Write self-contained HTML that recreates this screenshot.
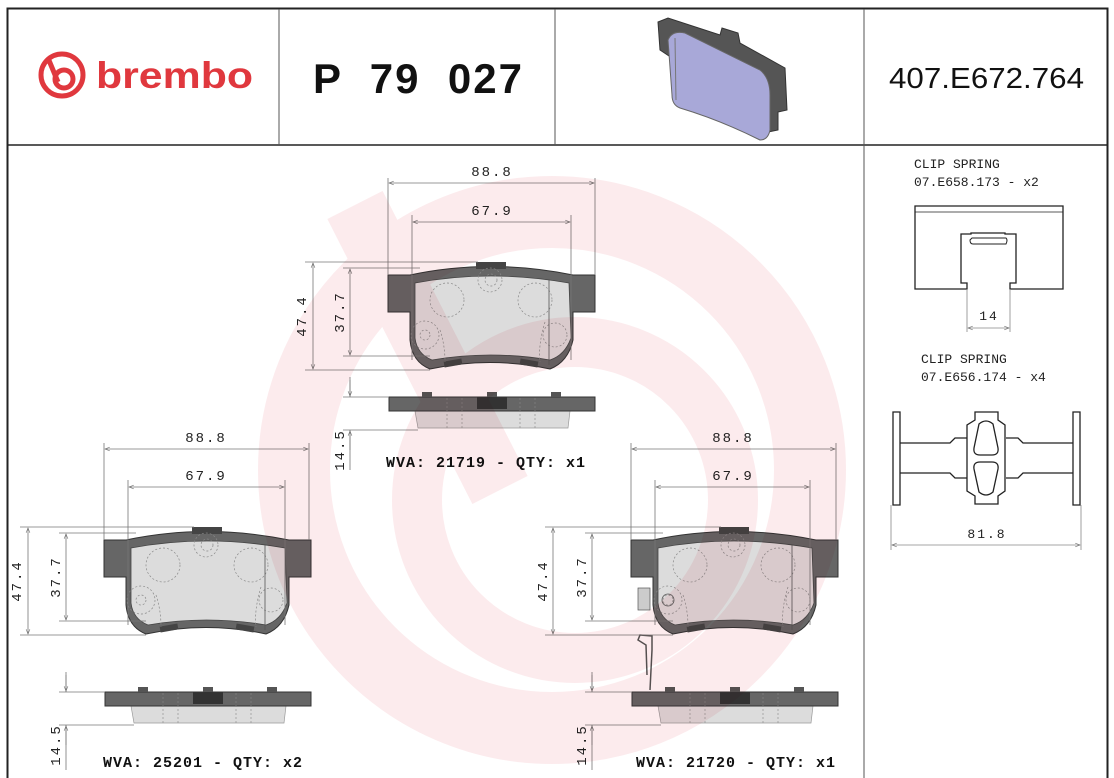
<!DOCTYPE html>
<html><head><meta charset="utf-8"><style>
html,body{margin:0;padding:0;background:#fff;}
svg{display:block;}
text{font-family:"Liberation Mono","DejaVu Sans Mono",monospace;}
</style></head><body>
<svg width="1114" height="778" viewBox="0 0 1114 778" xmlns="http://www.w3.org/2000/svg">
<defs>
<marker id="a" viewBox="0 0 10 10" refX="10" refY="5" markerWidth="8" markerHeight="6" orient="auto-start-reverse"><path d="M0,1 L10,5 L0,9" fill="none" stroke="#666" stroke-width="1.2"/></marker>
<g id="pad">
<path d="M388,275 L410,275 Q490,258 573,275 L595,275 L595,312 L573,312 L573,340 Q568,362 550,369 Q490,356 430,369 Q412,362 410,340 L410,312 L388,312 Z" fill="#666" stroke="#333" stroke-width="1"/>
<path d="M415,283 Q490,269 569,283 L571,338 Q565,355 550,360 Q490,350 432,360 Q417,354 415,338 Z" fill="#dcdcdc" stroke="#444" stroke-width="0.8"/>
<rect x="476" y="262" width="30" height="7" fill="#444"/>
<rect x="444" y="360" width="18" height="6" fill="#444" transform="rotate(-10 453 363)"/>
<rect x="520" y="360" width="18" height="6" fill="#444" transform="rotate(10 529 363)"/>
<g fill="none" stroke="#888" stroke-width="0.7" stroke-dasharray="2,2">
<circle cx="447" cy="300" r="17"/><circle cx="535" cy="300" r="17"/><circle cx="490" cy="280" r="12"/><circle cx="491" cy="280" r="6"/><circle cx="425" cy="335" r="14"/><circle cx="425" cy="335" r="5"/><circle cx="555" cy="335" r="12"/>
<path d="M440,330 Q445,345 445,362 M545,322 Q538,345 540,362"/>
</g>
<line x1="549" y1="280" x2="549" y2="365" stroke="#555" stroke-width="0.8"/>
</g>
<g id="side">
<path d="M415,411 L570,411 L568,428 L418,428 Z" fill="#dcdcdc" stroke="#999" stroke-width="0.7"/>
<rect x="389" y="397" width="206" height="14" fill="#666" stroke="#333"/>
<rect x="422" y="392" width="10" height="5" fill="#555"/><rect x="487" y="392" width="10" height="5" fill="#555"/><rect x="551" y="392" width="10" height="5" fill="#555"/>
<rect x="477" y="397" width="30" height="12" fill="#333"/>
<g stroke="#888" stroke-width="0.6" stroke-dasharray="2,2" fill="none"><path d="M447,398 V428 M462,398 V428 M520,398 V428 M535,398 V428"/></g>
</g>
</defs>

<!-- frame -->
<rect x="7.5" y="8.5" width="1100" height="780" fill="none" stroke="#222" stroke-width="2"/>
<line x1="7" y1="145" x2="1108" y2="145" stroke="#222" stroke-width="1.5"/>
<line x1="279" y1="9" x2="279" y2="145" stroke="#555"/>
<line x1="555" y1="9" x2="555" y2="145" stroke="#555"/>
<line x1="864" y1="9" x2="864" y2="778" stroke="#555"/>

<!-- logo -->
<g fill="none" stroke="#e0383e" stroke-width="5">
<circle cx="62" cy="75" r="21"/>
<circle cx="64" cy="79" r="9"/>
<path d="M48,58 L58,82"/>
</g>
<text x="96" y="88" font-size="37" font-weight="bold" fill="#e0383e" textLength="157" lengthAdjust="spacingAndGlyphs" style="font-family:'Liberation Sans',sans-serif">brembo</text>
<text x="313" y="93" font-size="42" font-weight="bold" fill="#111" textLength="209" lengthAdjust="spacing" style="font-family:'Liberation Sans',sans-serif;white-space:pre" xml:space="preserve">P  79  027</text>
<text x="889" y="88" font-size="29" fill="#111" textLength="195" lengthAdjust="spacingAndGlyphs" style="font-family:'Liberation Sans',sans-serif">407.E672.764</text>

<!-- 3d pad -->
<path d="M658,22 L668,18 L720,35 L722,28 L738,33 L740,43 L785,68 L787,110 L778,112 L778,130 L768,132 L765,120 L660,50 Z" fill="#555" stroke="#333"/>
<path d="M668,40 Q672,30 685,33 L760,70 Q770,78 770,95 L770,130 Q768,140 760,140 Q720,120 680,108 Q672,105 672,95 Z" fill="#a8a8d8" stroke="#666"/>
<path d="M675,38 L676,100" stroke="#777" fill="none"/>

<!-- pads -->
<use href="#pad"/>
<use href="#side"/>
<use href="#pad" transform="translate(-284,265)"/>
<use href="#side" transform="translate(-284,295)"/>
<use href="#pad" transform="translate(243,265)"/>
<use href="#side" transform="translate(243,295)"/>

<rect x="638" y="588" width="12" height="22" fill="#ccc" stroke="#555" stroke-width="0.7"/>
<circle cx="668" cy="600" r="6" fill="none" stroke="#555" stroke-width="0.8"/>
<path d="M647,675 L646,645 L638,640 L640,635 L652,636 L652,650 L650,690" fill="none" stroke="#555" stroke-width="1.5"/>

<!-- dims -->
<g stroke="#777" stroke-width="0.8" fill="none">
<path d="M388,178 V275 M595,178 V275 M412,215 V360 M571,215 V360"/>
<line x1="389" y1="183" x2="594" y2="183" marker-start="url(#a)" marker-end="url(#a)"/>
<line x1="413" y1="222" x2="570" y2="222" marker-start="url(#a)" marker-end="url(#a)"/>
<path d="M305,262 H478 M343,268 H420 M343,356 H430 M305,370 H430"/>
<line x1="313" y1="263" x2="313" y2="369" marker-start="url(#a)" marker-end="url(#a)"/>
<line x1="350" y1="269" x2="350" y2="355" marker-start="url(#a)" marker-end="url(#a)"/>
<path d="M343,397 H389 M343,430 H418 M350,377 V397 M350,430 V470"/>
<line x1="350" y1="380" x2="350" y2="396" marker-end="url(#a)"/>
<line x1="350" y1="450" x2="350" y2="431" marker-end="url(#a)"/>
<path d="M104,443 V540 M309,443 V540 M128,480 V625 M285,480 V625"/>
<line x1="105" y1="449" x2="308" y2="449" marker-start="url(#a)" marker-end="url(#a)"/>
<line x1="129" y1="487" x2="284" y2="487" marker-start="url(#a)" marker-end="url(#a)"/>
<path d="M20,527 H194 M59,533 H136 M59,621 H146 M20,635 H146"/>
<line x1="28" y1="528" x2="28" y2="634" marker-start="url(#a)" marker-end="url(#a)"/>
<line x1="66" y1="534" x2="66" y2="620" marker-start="url(#a)" marker-end="url(#a)"/>
<path d="M59,692 H105 M59,725 H134 M66,672 V692 M66,725 V770"/>
<line x1="66" y1="675" x2="66" y2="691" marker-end="url(#a)"/>
<line x1="66" y1="745" x2="66" y2="726" marker-end="url(#a)"/>
<path d="M631,443 V540 M836,443 V540 M655,480 V625 M810,480 V625"/>
<line x1="632" y1="449" x2="835" y2="449" marker-start="url(#a)" marker-end="url(#a)"/>
<line x1="656" y1="487" x2="809" y2="487" marker-start="url(#a)" marker-end="url(#a)"/>
<path d="M545,527 H721 M585,533 H663 M585,621 H673 M545,635 H673"/>
<line x1="553" y1="528" x2="553" y2="634" marker-start="url(#a)" marker-end="url(#a)"/>
<line x1="592" y1="534" x2="592" y2="620" marker-start="url(#a)" marker-end="url(#a)"/>
<path d="M585,692 H632 M585,725 H661 M592,672 V692 M592,725 V770"/>
<line x1="592" y1="675" x2="592" y2="691" marker-end="url(#a)"/>
<line x1="592" y1="745" x2="592" y2="726" marker-end="url(#a)"/>
</g>
<g font-size="14" fill="#222" text-anchor="middle" letter-spacing="2">
<text x="492" y="176">88.8</text><text x="492" y="215">67.9</text>
<text x="206" y="442">88.8</text><text x="206" y="480">67.9</text>
<text x="733" y="442">88.8</text><text x="733" y="480">67.9</text>
<text transform="translate(306,316) rotate(-90)">47.4</text>
<text transform="translate(344,312) rotate(-90)">37.7</text>
<text transform="translate(344,450) rotate(-90)">14.5</text>
<text transform="translate(21,581) rotate(-90)">47.4</text>
<text transform="translate(60,577) rotate(-90)">37.7</text>
<text transform="translate(60,745) rotate(-90)">14.5</text>
<text transform="translate(547,581) rotate(-90)">47.4</text>
<text transform="translate(586,577) rotate(-90)">37.7</text>
<text transform="translate(586,745) rotate(-90)">14.5</text>
</g>
<g font-size="15" font-weight="bold" fill="#111" letter-spacing="1">
<text x="386" y="467">WVA: 21719 - QTY: x1</text>
<text x="103" y="767">WVA: 25201 - QTY: x2</text>
<text x="636" y="767">WVA: 21720 - QTY: x1</text>
</g>

<g font-size="13" fill="#222">
<text x="914" y="168">CLIP SPRING</text><text x="914" y="186">07.E658.173 - x2</text>
<text x="921" y="363">CLIP SPRING</text><text x="921" y="381">07.E656.174 - x4</text>
</g>
<g fill="none" stroke="#222" stroke-width="1.3">
<path d="M915,206 H1063 V289 H1010 V283 H1016 V234 H1005 V233 H971 V234 H961 V283 H967 V289 H915 Z"/>
<path d="M915,212 H1063" stroke-width="0.8"/>
<path d="M970,240 Q970,244 973,244 H1006 Q1008,240 1006,238 H972 Z" stroke-width="1"/>
<path d="M893,412 H900 V505 H893 Z M1073,412 H1080 V505 H1073 Z"/>
<path d="M900,443 H950 L955,438 H967 M900,473 H950 L955,478 H967 M1073,443 H1023 L1018,438 H1006 M1073,473 H1023 L1018,478 H1006"/>
<path d="M975,412 H998 V420 L1005,425 V491 L998,496 V504 H975 V496 L967,491 V425 L975,420 Z"/>
<path d="M979,424 Q986,418 993,424 L998,448 Q999,455 992,455 H980 Q973,455 974,448 Z"/>
<path d="M980,462 H992 Q999,462 998,469 L993,492 Q986,498 979,492 L974,469 Q973,462 980,462 Z"/>
</g>
<g stroke="#888" stroke-width="0.8" fill="none">
<path d="M967,289 V332 M1010,289 V332 M891,505 V550 M1081,505 V550"/>
<line x1="968" y1="328" x2="1009" y2="328" marker-start="url(#a)" marker-end="url(#a)"/>
<line x1="892" y1="545" x2="1080" y2="545" marker-start="url(#a)" marker-end="url(#a)"/>
</g>
<g font-size="13" fill="#222" text-anchor="middle" letter-spacing="2">
<text x="989" y="320">14</text><text x="987" y="538">81.8</text>
</g>

<!-- watermark -->
<g fill="none" stroke="#e45a6a" opacity="0.12" style="mix-blend-mode:multiply">
<circle cx="552" cy="470" r="258" stroke-width="72"/>
<circle cx="575" cy="500" r="158" stroke-width="50"/>
<path d="M355,205 L500,490" stroke-width="62"/>
</g>
</svg>
</body></html>
